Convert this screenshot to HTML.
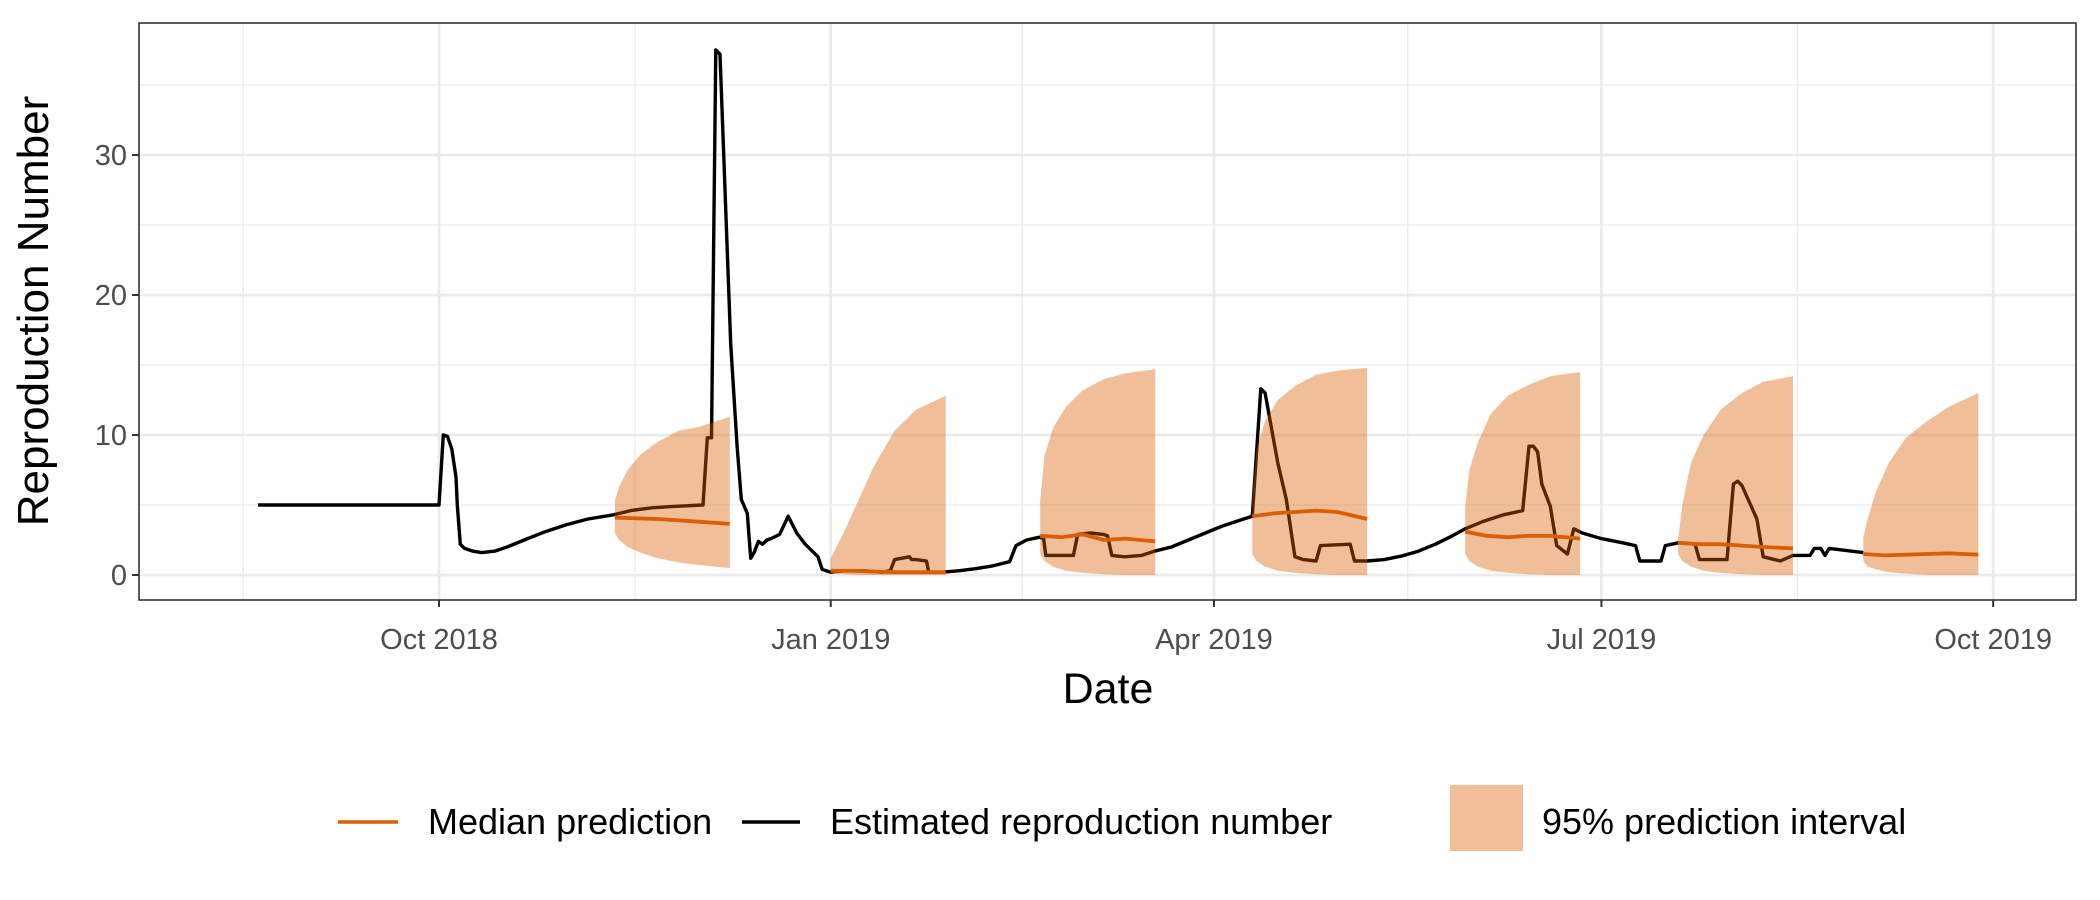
<!DOCTYPE html>
<html><head><meta charset="utf-8"><style>
html,body{margin:0;padding:0;background:#fff;}
svg{display:block;font-family:"Liberation Sans",Arial,sans-serif;}
</style></head><body>
<svg id="chart" width="2100" height="900" viewBox="0 0 2100 900" xmlns="http://www.w3.org/2000/svg">
<rect x="0" y="0" width="2100" height="900" fill="#fff"/>
<g id="grid"></g>
<g id="marks"></g>
<g id="axes"></g>
<text transform="translate(48,311) rotate(-90)" text-anchor="middle" font-size="44" fill="#000">Reproduction Number</text>
<text x="1108" y="703" text-anchor="middle" font-size="43" fill="#000">Date</text>
<g>
  <line x1="338" y1="822" x2="398" y2="822" stroke="#D95F02" stroke-width="3.5"/>
  <text x="428" y="834" font-size="36" fill="#000">Median prediction</text>
  <line x1="742" y1="822" x2="800" y2="822" stroke="#000" stroke-width="3.5"/>
  <text x="830" y="834" font-size="36" fill="#000">Estimated reproduction number</text>
  <rect x="1450" y="785" width="73" height="66" fill="#D95F02" fill-opacity="0.4"/>
  <text x="1542" y="834" font-size="36" fill="#000">95% prediction interval</text>
</g>
</svg>
<script>
// Data (x = days since 2018-10-01)
const xTickLabels = ["Oct 2018","Jan 2019","Apr 2019","Jul 2019","Oct 2019"];
const xTickDays = [0, 92, 182, 273, 365];
const yTicks = [0, 10, 20, 30];
const estDays = [-42.5,0,1,2,3,4,4.3,5,6,8,10,13,16,20,25,30,35,41,45,50,55,62,63,64,65,66,68.5,70,71,72.4,73.2,74,75,76,77,78,80,82,84,86,88,89,90,92,95,100,104,106,107,110.5,111,112,114.5,115,118,122,126,130,134,135.5,138,141,142,142.5,149,150,153,156,157,158,161,165,168,172,176,180,184,188,191,193,194,197,199,201,203,206,207,214,215,218,222,226,230,234,238,241,245,250,254.5,256,257,258,259,261,262.5,265,266.5,268.5,273,278,281,282,287,288,291,295,296,302.5,304,305,306,309.5,311,315,318,322,323,324.5,325.5,326.5,334.5];
const estValues = [5,5,10,9.9,9,7,5,2.2,1.9,1.7,1.6,1.7,2.0,2.5,3.1,3.6,4.0,4.3,4.6,4.8,4.9,5.0,9.8,9.8,37.5,37.2,16.5,9.2,5.4,4.4,1.2,1.6,2.4,2.2,2.5,2.6,2.9,4.2,3.0,2.2,1.6,1.3,0.4,0.2,0.3,0.3,0.2,0.3,1.1,1.3,1.1,1.1,1.0,0.2,0.2,0.3,0.45,0.65,0.95,2.1,2.5,2.7,2.6,1.4,1.4,2.9,3.0,2.9,2.8,1.4,1.3,1.4,1.7,2.0,2.5,3.0,3.5,3.9,4.2,13.3,13.0,8.0,5.4,1.3,1.1,1.0,2.1,2.2,1.0,1.0,1.1,1.35,1.7,2.2,2.8,3.3,3.8,4.3,4.6,9.2,9.2,8.8,6.5,4.9,2.1,1.5,3.3,3.0,2.6,2.3,2.1,1.0,1.0,2.1,2.3,2.2,1.1,1.1,6.5,6.7,6.4,4.0,1.3,1.0,1.4,1.4,1.9,1.9,1.4,1.9,1.6];
const intervalStarts = [41.3, 92, 141.2, 191, 241, 291, 334.5];
const bandOffsets = [0,1,3,6,10,15,20,27];
const upper1=[5.3,6.3,7.5,8.6,9.5,10.3,10.6,11.3];
const upper2=[1.2,1.8,3.0,5.0,7.7,10.3,11.8,12.8];
const upper3=[5.3,8.5,10.5,12.0,13.2,14.0,14.4,14.7];
const upper4=[5.5,9.0,11.0,12.5,13.5,14.3,14.6,14.8];
const upper5=[5.0,7.5,9.5,11.5,12.8,13.6,14.2,14.5];
const upper6=[2.5,5.0,8.0,10.0,11.8,13.0,13.8,14.2];
const upper7=[2.7,4.0,6.0,8.0,9.8,11.0,12.0,13.0];
const lower1=[3.0,2.5,2.0,1.6,1.2,0.9,0.7,0.5];
const lower2=[0.2,0.1,0.05,0,0,0,0,0];
const lower3=[1.5,1.0,0.6,0.3,0.15,0.05,0,0];
const lower4=[1.5,1.0,0.6,0.3,0.15,0.05,0,0];
const lower5=[1.5,1.0,0.6,0.3,0.15,0.05,0,0];
const lower6=[1.5,1.0,0.6,0.3,0.15,0.05,0,0];
const lower7=[1.0,0.6,0.4,0.2,0.1,0,0,0];
const medianOffsets = [0,5,10,15,20,27];
const median1=[4.1,4.05,4.0,3.9,3.8,3.65];
const median2=[0.3,0.3,0.25,0.2,0.2,0.2];
const median3=[2.8,2.7,2.9,2.5,2.6,2.4];
const median4=[4.2,4.4,4.5,4.6,4.5,4.0];
const median5=[3.1,2.8,2.7,2.8,2.8,2.6];
const median6=[2.3,2.2,2.2,2.1,2.0,1.9];
const median7=[1.5,1.4,1.45,1.5,1.55,1.45];

const uppers=[upper1,upper2,upper3,upper4,upper5,upper6,upper7];
const lowers=[lower1,lower2,lower3,lower4,lower5,lower6,lower7];
const medians=[median1,median2,median3,median4,median5,median6,median7];

const NS="http://www.w3.org/2000/svg";
const P={l:139,r:2076,t:23,b:600};
const xs=d=>439+d*4.258;
const ys=v=>575-v*14;
function mk(tag,attrs,parent){const e=document.createElementNS(NS,tag);for(const k in attrs)e.setAttribute(k,attrs[k]);parent.appendChild(e);return e;}
const grid=document.getElementById('grid'),marks=document.getElementById('marks'),axes=document.getElementById('axes');

const g0=mk('rect',{x:P.l,y:P.t,width:P.r-P.l,height:P.b-P.t,fill:'#fff'},grid);


[5,15,25,35].forEach(v=>{const l=mk('line',{x1:P.l,x2:P.r,y1:ys(v),y2:ys(v),stroke:'#ebebeb','stroke-width':1.3},grid);

});
const majX=[-92].concat(xTickDays);
for(let i=0;i<majX.length-1;i++){const m=(majX[i]+majX[i+1])/2;const l=mk('line',{x1:xs(m),x2:xs(m),y1:P.t,y2:P.b,stroke:'#ebebeb','stroke-width':1.3},grid);

}
yTicks.forEach(v=>{const l=mk('line',{x1:P.l,x2:P.r,y1:ys(v),y2:ys(v),stroke:'#ebebeb','stroke-width':2.7},grid);

});
xTickDays.forEach(d=>{const l=mk('line',{x1:xs(d),x2:xs(d),y1:P.t,y2:P.b,stroke:'#ebebeb','stroke-width':2.7},grid);

});

let pd='';estDays.forEach((d,i)=>{pd+=(i?'L':'M')+xs(d).toFixed(1)+','+ys(estValues[i]).toFixed(1);});
const est=mk('path',{d:pd,fill:'none',stroke:'#000','stroke-width':3.4,'stroke-linejoin':'round'},marks);



intervalStarts.forEach((s,k)=>{
  let d='';
  bandOffsets.forEach((o,i)=>{d+=(i?'L':'M')+xs(s+o).toFixed(1)+','+ys(uppers[k][i]).toFixed(1);});
  for(let i=bandOffsets.length-1;i>=0;i--){d+='L'+xs(s+bandOffsets[i]).toFixed(1)+','+ys(lowers[k][i]).toFixed(1);}
  d+='Z';
  const r=mk('path',{d:d,fill:'#D95F02','fill-opacity':0.4,stroke:'none'},marks);
  
  
});
intervalStarts.forEach((s,k)=>{
  let d='';
  medianOffsets.forEach((o,i)=>{d+=(i?'L':'M')+xs(s+o).toFixed(1)+','+ys(medians[k][i]).toFixed(1);});
  const m=mk('path',{d:d,fill:'none',stroke:'#D95F02','stroke-width':3.8},marks);
  
  
});

const bd=mk('rect',{x:P.l,y:P.t,width:P.r-P.l,height:P.b-P.t,fill:'none',stroke:'#333','stroke-width':1.6},axes);


yTicks.forEach(v=>{
  const t=mk('line',{x1:P.l-7,x2:P.l,y1:ys(v),y2:ys(v),stroke:'#333','stroke-width':2},axes);
  
  
  const tx=mk('text',{x:P.l-12,y:ys(v)+10,'text-anchor':'end','font-size':29,fill:'#4d4d4d'},axes);
  tx.textContent=String(v);
  
  
});
xTickDays.forEach((d,i)=>{
  const t=mk('line',{x1:xs(d),x2:xs(d),y1:P.b,y2:P.b+7,stroke:'#333','stroke-width':2},axes);
  
  
  const tx=mk('text',{x:xs(d),y:649,'text-anchor':'middle','font-size':29,fill:'#4d4d4d'},axes);
  tx.textContent=xTickLabels[i];
  
  
});
</script>
</body></html>
